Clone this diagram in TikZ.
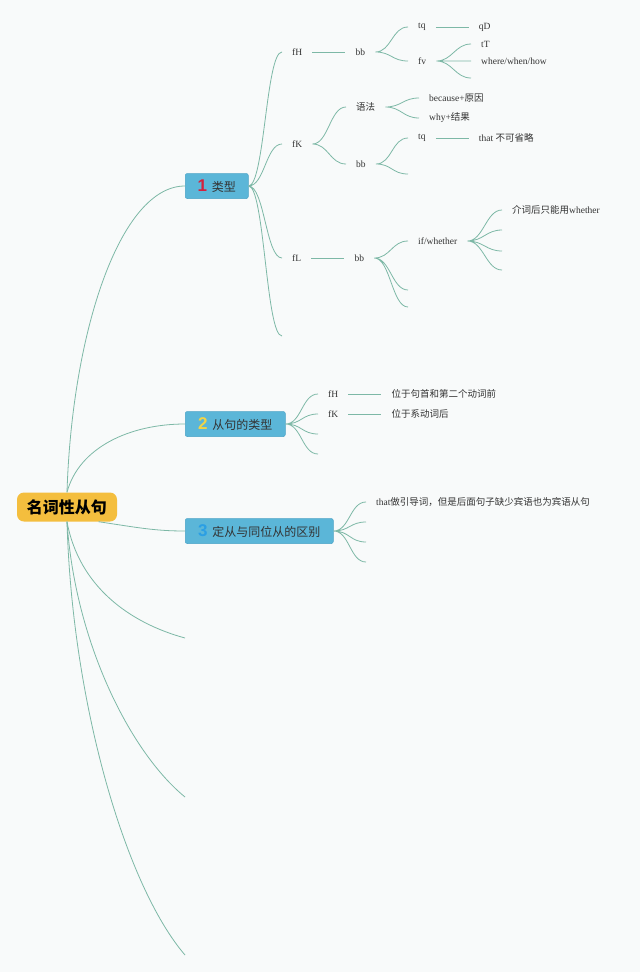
\documentclass[tikz,border=0pt]{standalone}
\usepackage{fontspec}
\setmainfont{Liberation Serif}
\newfontfamily\cjk{Noto Sans CJK SC}
\newfontfamily\numf{Liberation Sans}
\usetikzlibrary{positioning}
\definecolor{bgc}{HTML}{F8FAFA}
\definecolor{linkc}{HTML}{7DB8A6}
\definecolor{rootc}{HTML}{F4BE3E}
\definecolor{topicc}{HTML}{5BB6D8}
\definecolor{topicl}{HTML}{4AA3C6}
\definecolor{numa}{HTML}{D4213D}
\definecolor{numb}{HTML}{F1D448}
\definecolor{numc}{HTML}{2B9FE4}
\definecolor{txt}{HTML}{333333}
\newcommand\topicnum[2]{{\numf\bfseries\fontsize{17}{17}\selectfont\textcolor{#1}{#2}}\hspace{5pt}}

\begin{document}
\begin{tikzpicture}[x=1pt, y=-1pt,
    node distance=33pt,
    link/.style={draw=linkc, line width=.8pt},
    sbend/.style={out=0, in=180, distance=16},
    leaf/.style={anchor=west, inner xsep=10pt, inner ysep=1pt, text=txt,
      font=\fontsize{9.5}{11}\selectfont},
    rootbox/.style={fill=rootc, rounded corners=7pt, minimum width=100pt,
      minimum height=29pt, text=black, font=\cjk\bfseries\fontsize{16}{18}\selectfont},
    topic/.style={anchor=west, draw=topicl, line width=.5pt, fill=topicc,
      rounded corners=2pt, minimum height=25pt, inner xsep=0pt, text=txt,
      font=\cjk\fontsize{12}{14}\selectfont}
  ]
  \fill[bgc] (0,0) rectangle (640,972);
  \useasboundingbox (0,0) rectangle (640,972);

  % root and main topics
  \node[rootbox] (root) at (67,507) {名词性从句};
  \node[topic, minimum width=63pt] (lx) at (185,186) {\topicnum{numa}{1}类型};
  \node[topic, minimum width=100pt] (cl) at (185,424) {\topicnum{numb}{2}从句的类型};
  \node[topic, minimum width=148pt] (qb) at (185,531) {\topicnum{numc}{3}定从与同位从的区别};
  \coordinate (ra) at (185,638);
  \coordinate (rb) at (185,797);
  \coordinate (rc) at (185,955);

  \draw[link] (root.north) .. controls +(5,-160) and +(-65,0) .. (lx.west);
  \draw[link] (root.north) .. controls +(12,-45) and +(-55,0) .. (cl.west);
  \draw[link] (root.-25) .. controls +(40,6) and +(-30,0) .. (qb.west);
  \draw[link] (root.south) .. controls +(12,65) and +(-55,-15) .. (ra);
  \draw[link] (root.south) .. controls +(8,120) and +(-55,-45) .. (rb);
  \draw[link] (root.south) .. controls +(5,180) and +(-60,-70) .. (rc);

  % 1 类型
  \node[leaf] (fh1) at (282,52) {fH};
  \node[leaf] (fk1) at (282,144) {fK};
  \node[leaf] (fl1) at (282,258) {fL};
  \coordinate (lxe) at (282,336);
  \draw[link] (lx.east) to[sbend] (fh1.west) (lx.east) to[sbend] (fk1.west)
    (lx.east) to[sbend] (fl1.west) (lx.east) to[sbend] (lxe);

  \node[leaf, right=of fh1.east, anchor=west] (bb1) {bb};
  \draw[link] (fh1) -- (bb1);
  \node[leaf] (tq1) at (408,27) {tq};
  \node[leaf] (fv1) at (408,61) {fv};
  \draw[link] (bb1.east) to[sbend] (tq1.west) (bb1.east) to[sbend] (fv1.west);
  \node[leaf, right=of tq1.east, anchor=west] (qd) {qD};
  \draw[link] (tq1) -- (qd);
  \node[leaf] (tt) at (471,44) {tT};
  \node[leaf] (wwh) at (471,61) {where/when/how};
  \coordinate (fve) at (471,78);
  \draw[link] (fv1.east) to[sbend] (tt.west) (fv1.east) to[sbend] (wwh.west)
    (fv1.east) to[sbend] (fve);

  \node[leaf] (yf) at (346,107) {{\cjk 语法}};
  \node[leaf] (bb2) at (346,164) {bb};
  \draw[link] (fk1.east) to[sbend] (yf.west) (fk1.east) to[sbend] (bb2.west);
  \node[leaf] (bec) at (419,98) {because+{\cjk 原因}};
  \node[leaf] (why) at (419,118) {why+{\cjk 结果}};
  \draw[link] (yf.east) to[sbend] (bec.west) (yf.east) to[sbend] (why.west);
  \node[leaf] (tq2) at (408,138) {tq};
  \coordinate (bb2e) at (408,174);
  \draw[link] (bb2.east) to[sbend] (tq2.west) (bb2.east) to[sbend] (bb2e);
  \node[leaf, right=of tq2.east, anchor=west] (tp) {that {\cjk 不可省略}};
  \draw[link] (tq2) -- (tp);

  \node[leaf, right=of fl1.east, anchor=west] (bb3) {bb};
  \draw[link] (fl1) -- (bb3);
  \node[leaf] (ifw) at (408,241) {if/whether};
  \coordinate (bb3e) at (408,290);
  \coordinate (bb3f) at (408,307);
  \draw[link] (bb3.east) to[sbend] (ifw.west) (bb3.east) to[sbend] (bb3e)
    (bb3.east) to[sbend] (bb3f);
  \node[leaf] (prep) at (502,210) {{\cjk 介词后只能用}whether};
  \coordinate (ifa) at (502,230);
  \coordinate (ifb) at (502,251);
  \coordinate (ifc) at (502,270);
  \draw[link] (ifw.east) to[sbend] (prep.west) (ifw.east) to[sbend] (ifa)
    (ifw.east) to[sbend] (ifb) (ifw.east) to[sbend] (ifc);

  % 2 从句的类型
  \node[leaf] (fh2) at (318,394) {fH};
  \node[leaf] (fk2) at (318,414) {fK};
  \coordinate (cla) at (318,434);
  \coordinate (clb) at (318,454);
  \draw[link] (cl.east) to[sbend] (fh2.west) (cl.east) to[sbend] (fk2.west)
    (cl.east) to[sbend] (cla) (cl.east) to[sbend] (clb);
  \node[leaf, right=of fh2.east, anchor=west] (pos1) {{\cjk 位于句首和第二个动词前}};
  \node[leaf, right=of fk2.east, anchor=west] (pos2) {{\cjk 位于系动词后}};
  \draw[link] (fh2) -- (pos1);
  \draw[link] (fk2) -- (pos2);

  % 3 定从与同位从的区别
  \node[leaf] (thw) at (366,502) {that{\cjk 做引导词，但是后面句子缺少宾语也为宾语从句}};
  \coordinate (qba) at (366,522);
  \coordinate (qbb) at (366,542);
  \coordinate (qbc) at (366,562);
  \draw[link] (qb.east) to[sbend] (thw.west) (qb.east) to[sbend] (qba)
    (qb.east) to[sbend] (qbb) (qb.east) to[sbend] (qbc);
\end{tikzpicture}
\end{document}
